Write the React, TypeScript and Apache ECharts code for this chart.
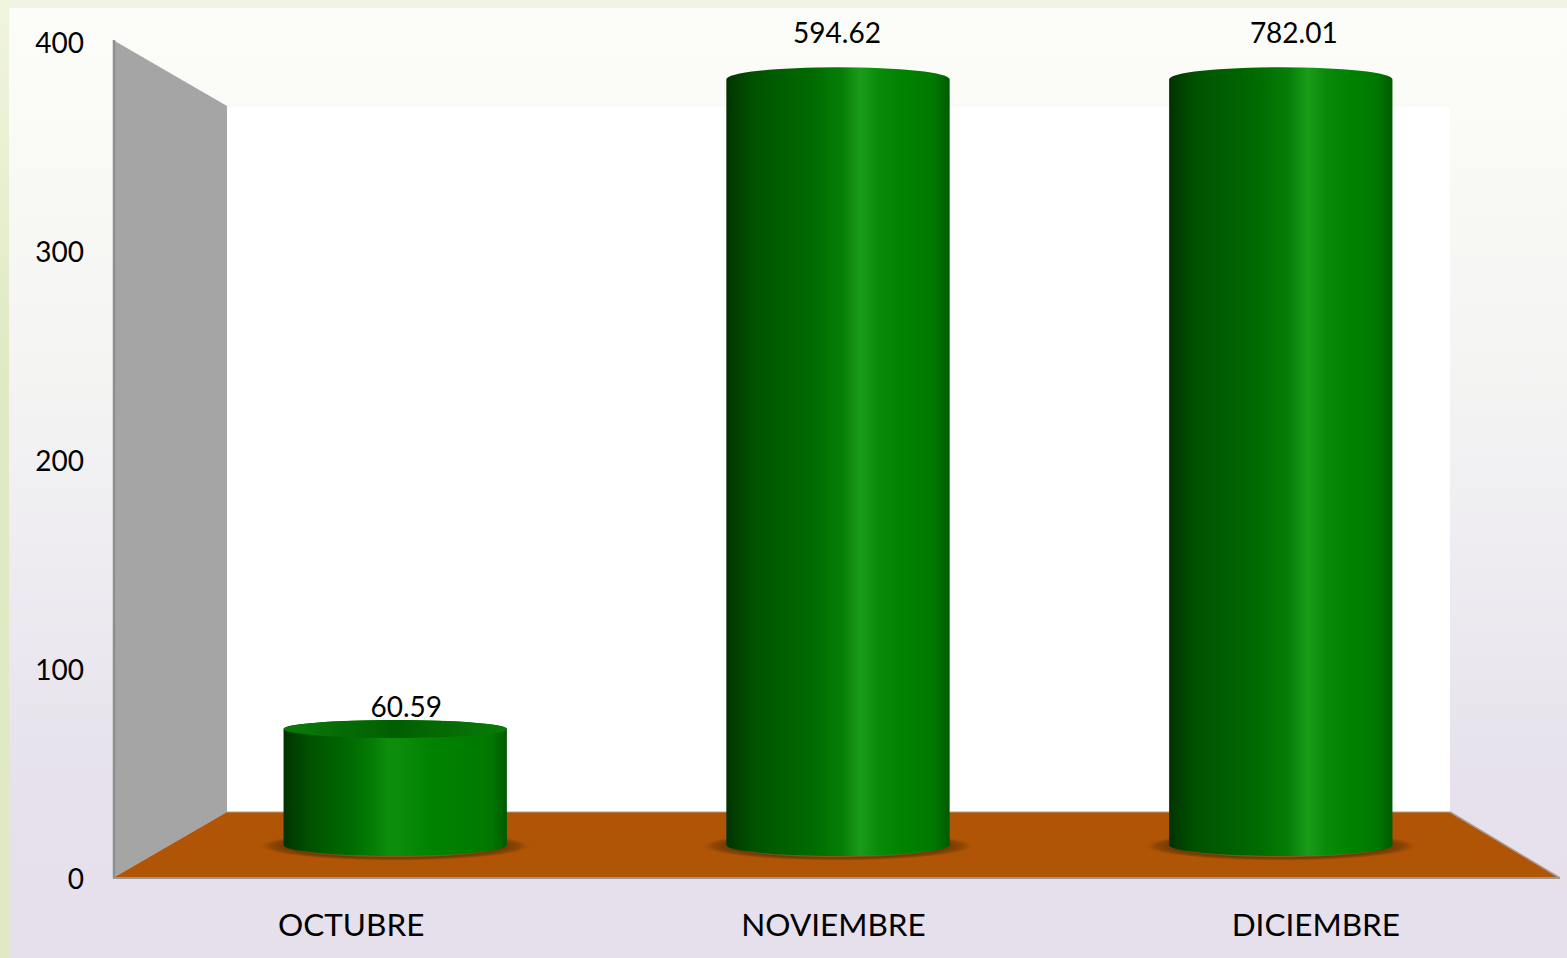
import React, { useEffect, useRef } from "react";
import * as echarts from "echarts";

const months = ["OCTUBRE", "NOVIEMBRE", "DICIEMBRE"];
const gastos = [60.59, 594.62, 782.01];
const axisTicks = [0, 100, 200, 300, 400];

const W = 1567, H = 958;
const G = { left: 110, top: 42, right: 10, bottom: 80 };
const FONT = "Lato";
const AXIS_MAX = axisTicks[axisTicks.length - 1];
const DEPTH_X = 0.918, DEPTH_Y = 0.916, SHIFT_X = 4.5, BASE_UP = 33;
const HALF_W = 0.2315;
const highlight = [0.47, 0.6, 0.62];
const labelDx = [11, -1, 13];
const labelDy = [-23, -47, -47];

function bodyFill(h: number, bright: string) {
  return {
    type: "linear", x: 0, y: 0, x2: 1, y2: 0,
    colorStops: [
      { offset: 0, color: "#003200" },
      { offset: 0.04, color: "#003f00" },
      { offset: 0.12, color: "#005200" },
      { offset: h * 0.65, color: "#006c00" },
      { offset: h * 0.86, color: "#067e06" },
      { offset: h, color: bright },
      { offset: h + 0.08, color: "#0a8a0a" },
      { offset: h + 0.18, color: "#008400" },
      { offset: 0.93, color: "#007800" },
      { offset: 1, color: "#005a00" },
    ],
  };
}

function renderCyl(params: any, api: any) {
  const i = api.value(0), v = Math.min(api.value(1), AXIS_MAX);
  const clipped = api.value(1) >= AXIS_MAX;
  const [px0, py0] = api.coord([i, 0]);
  const [, pyTop] = api.coord([i, v]);
  const midX = params.coordSys.x + params.coordSys.width / 2;
  const cx = midX + (px0 - midX) * DEPTH_X + SHIFT_X;
  const base = py0 - BASE_UP;
  const top = base - (py0 - pyTop) * DEPTH_Y;
  const rx = (params.coordSys.width / 3) * HALF_W;
  const ryB = 11, ryT = clipped ? 12 : 9;
  const d =
    `M${cx - rx} ${top}A${rx} ${ryT} 0 0 1 ${cx + rx} ${top}` +
    `L${cx + rx} ${base}A${rx} ${ryB} 0 0 1 ${cx - rx} ${base}Z`;
  const children: any[] = [
    {
      type: "ellipse",
      shape: { cx, cy: base + 1, rx: rx * 1.24, ry: ryB + 4 },
      style: {
        fill: {
          type: "radial", x: 0.5, y: 0.5, r: 0.5,
          colorStops: [
            { offset: 0, color: "#7a5a10" },
            { offset: 0.68, color: "#8a6a10" },
            { offset: 0.78, color: "#6e3a04" },
            { offset: 0.9, color: "#8e4604" },
            { offset: 1, color: "rgba(176,85,6,0)" },
          ],
        },
      },
    },
    {
      type: "path",
      shape: { pathData: d, x: cx - rx, y: top - ryT, width: 2 * rx, height: base + ryB - top + ryT },
      style: { fill: bodyFill(highlight[i], clipped ? "#1a9c1a" : "#0c8e0c") },
    },
  ];
  if (!clipped) {
    children.push({
      type: "ellipse",
      shape: { cx, cy: top, rx, ry: ryT },
      style: {
        fill: {
          type: "linear", x: 0, y: 0, x2: 1, y2: 0,
          colorStops: [
            { offset: 0, color: "#0a7a0a" },
            { offset: 0.5, color: "#005f00" },
            { offset: 1, color: "#0a7a0a" },
          ],
        },
      },
    });
  }
  children.push({
    type: "text",
    style: {
      x: cx + labelDx[i], y: top + labelDy[i],
      text: String(api.value(1)),
      fill: "#000", font: `28px ${FONT}`, align: "center", verticalAlign: "middle",
    },
  });
  return { type: "group", children };
}

export default function App() {
  const ref = useRef<HTMLDivElement>(null);
  useEffect(() => {
    const chart = echarts.init(ref.current!, null, { renderer: "svg" });
    chart.setOption({
      animation: false,
      backgroundColor: "transparent",
      textStyle: { fontFamily: FONT },
      grid: { left: G.left, top: G.top, right: G.right, bottom: G.bottom },
      xAxis: {
        type: "category", data: months,
        axisLine: { show: false }, axisTick: { show: false }, splitLine: { show: false },
        axisLabel: { color: "#000", fontSize: 31.5, fontFamily: FONT, margin: 30 },
      },
      yAxis: {
        type: "value", min: 0, max: AXIS_MAX, interval: 100,
        axisLine: { show: false }, axisTick: { show: false }, splitLine: { show: false },
        axisLabel: { color: "#000", fontSize: 28, fontFamily: FONT, margin: 26 },
      },
      graphic: {
        elements: [
          { type: "rect", shape: { x: 227, y: 107, width: 1223, height: 706 }, style: { fill: "#ffffff" } },
          { type: "polygon", shape: { points: [[113, 40], [227, 106], [227, 812], [113, 878]] }, style: { fill: "#a5a5a5" } },
          { type: "line", shape: { x1: 114, y1: 40, x2: 114, y2: 878 }, style: { stroke: "#8f8f8f", lineWidth: 2.5 } },
          { type: "polygon", shape: { points: [[113, 878], [227, 812], [1450, 812], [1560, 878]] }, style: { fill: "#b05506" } },
          { type: "line", shape: { x1: 227, y1: 812, x2: 1450, y2: 812 }, style: { stroke: "#c09a78", lineWidth: 1 } },
          { type: "line", shape: { x1: 1450, y1: 812, x2: 1560, y2: 878 }, style: { stroke: "#a89a90", lineWidth: 1.5 } },
          { type: "line", shape: { x1: 113, y1: 878, x2: 1560, y2: 878 }, style: { stroke: "#999999", lineWidth: 2 } },
        ],
      },
      series: [
        {
          type: "custom", coordinateSystem: "cartesian2d", clip: false, z: 5,
          renderItem: renderCyl,
          data: gastos.map((v, i) => [i, v]),
          encode: { x: 0, y: 1 },
        },
      ],
    });
    return () => chart.dispose();
  }, []);
  return (
    <div style={{ position: "fixed", left: 0, top: 0, width: W, height: H, background: "#eff3e3", overflow: "hidden" }}>
      <div style={{ position: "absolute", left: 0, top: 0, width: 9, height: H, background: "linear-gradient(#f0f5de, #dfe9c3 40%, #dfe9c3)" }} />
      <div style={{ position: "absolute", left: 9, top: 8, width: W - 9, height: H - 8, background: "linear-gradient(#fcfdf9 0%, #fafbf6 12%, #f4f4f3 38%, #eeecf1 58%, #e6e1ec 82%, #e5e0ec 100%)" }} />
      <div ref={ref} style={{ position: "absolute", left: 0, top: 0, width: W, height: H }} />
    </div>
  );
}
